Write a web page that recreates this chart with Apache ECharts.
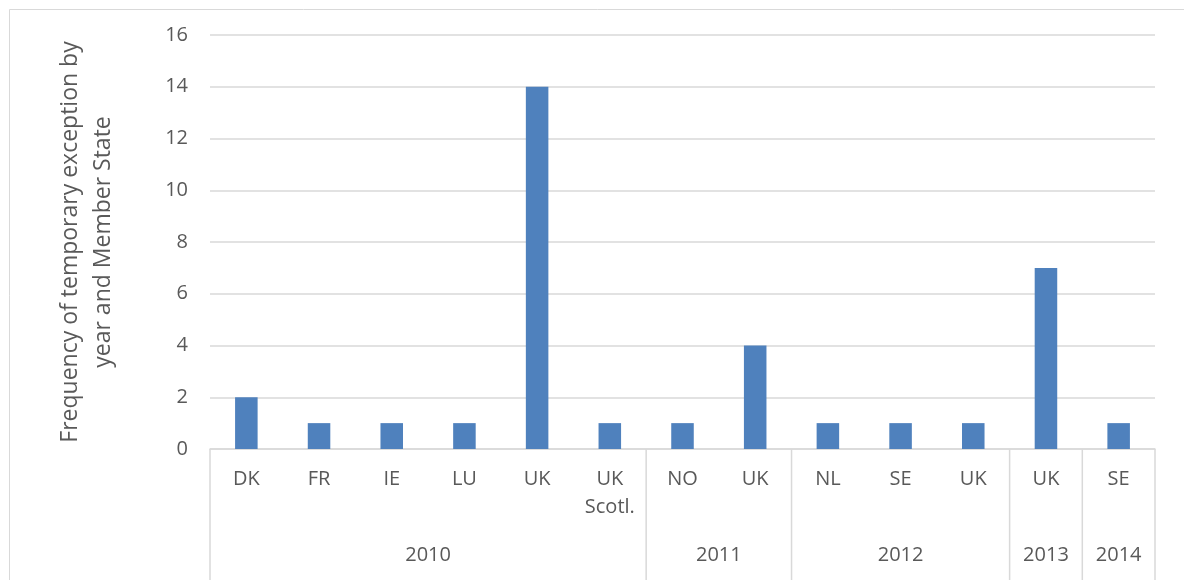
<!DOCTYPE html>
<html>
<head>
<meta charset="utf-8">
<script src="https://cdn.jsdelivr.net/npm/echarts@6/dist/echarts.min.js"></script>
<style>
  html, body { margin: 0; padding: 0; background: #fff; }
  #chart { width: 1184px; height: 580px; }
</style>
</head>
<body>
<div id="chart"></div>
<script>
// Member State per bar, grouped by year
const categories = ['DK', 'FR', 'IE', 'LU', 'UK', 'UK\nScotl.', 'NO', 'UK', 'NL', 'SE', 'UK', 'UK', 'SE'];
const frequencies = [2, 1, 1, 1, 14, 1, 1, 4, 1, 1, 1, 7, 1];
const years = ['2010', '2011', '2012', '2013', '2014'];
const barsPerYear = [6, 2, 3, 1, 1];
const yTicks = [0, 2, 4, 6, 8, 10, 12, 14, 16];

const FONT = '"Open Sans", Lato, sans-serif';
const TEXT = '#595959';
const LINE = '#d9d9d9';

// year groups as [firstIndex, lastIndex, label]
const yearGroups = [];
let start = 0;
years.forEach((y, i) => {
  yearGroups.push([start, start + barsPerYear[i] - 1, y]);
  start += barsPerYear[i];
});

const chart = echarts.init(document.getElementById('chart'));

chart.setOption({
  animation: false,
  backgroundColor: '#fff',
  graphic: [{
    type: 'rect',
    left: 7, top: 7,
    shape: { width: 1220, height: 620 },
    style: { fill: 'none', stroke: LINE, lineWidth: 1 },
    silent: true
  }],
  grid: { left: 210, right: 29, top: 35, bottom: 131 },
  xAxis: {
    type: 'category',
    data: categories,
    axisLine: { lineStyle: { color: LINE, width: 1.5 } },
    axisTick: { show: false },
    axisLabel: {
      color: TEXT, fontFamily: FONT, fontSize: 20,
      margin: 16, lineHeight: 28, interval: 0
    }
  },
  yAxis: {
    type: 'value',
    min: yTicks[0], max: yTicks[yTicks.length - 1], interval: 2,
    name: 'Frequency of temporary exception by\nyear and Member State',
    nameLocation: 'middle',
    nameGap: 90,
    nameTextStyle: { color: TEXT, fontFamily: FONT, fontSize: 23, lineHeight: 33 },
    axisLine: { show: false },
    axisTick: { show: false },
    axisLabel: { color: TEXT, fontFamily: FONT, fontSize: 20, margin: 22 },
    splitLine: { lineStyle: { color: LINE, width: 1.5 } }
  },
  series: [
    {
      type: 'bar',
      data: frequencies,
      barWidth: '31%',
      itemStyle: { color: '#4f81bd' }
    },
    {
      // second level of the category axis: year separators and labels
      type: 'custom',
      silent: true,
      clip: false,
      data: yearGroups,
      renderItem: function (params, api) {
        const first = api.value(0);
        const last = api.value(1);
        const band = api.size([1, 0])[0];
        const base = api.coord([first, 0]);
        const xLeft = base[0] - band / 2;
        const xRight = api.coord([last, 0])[0] + band / 2;
        const y0 = base[1];
        const children = [
          {
            type: 'line',
            shape: { x1: xLeft, y1: y0, x2: xLeft, y2: y0 + 140 },
            style: { stroke: LINE, lineWidth: 1.5 }
          },
          {
            type: 'text',
            style: {
              text: yearGroups[params.dataIndex][2],
              x: (xLeft + xRight) / 2, y: y0 + 106,
              align: 'center', verticalAlign: 'middle',
              fill: TEXT, font: '20px ' + FONT
            }
          }
        ];
        if (params.dataIndex === yearGroups.length - 1) {
          children.push({
            type: 'line',
            shape: { x1: xRight, y1: y0, x2: xRight, y2: y0 + 140 },
            style: { stroke: LINE, lineWidth: 1.5 }
          });
        }
        return { type: 'group', children: children };
      },
      encode: { x: 0, y: -1 }
    }
  ]
});
</script>
</body>
</html>
